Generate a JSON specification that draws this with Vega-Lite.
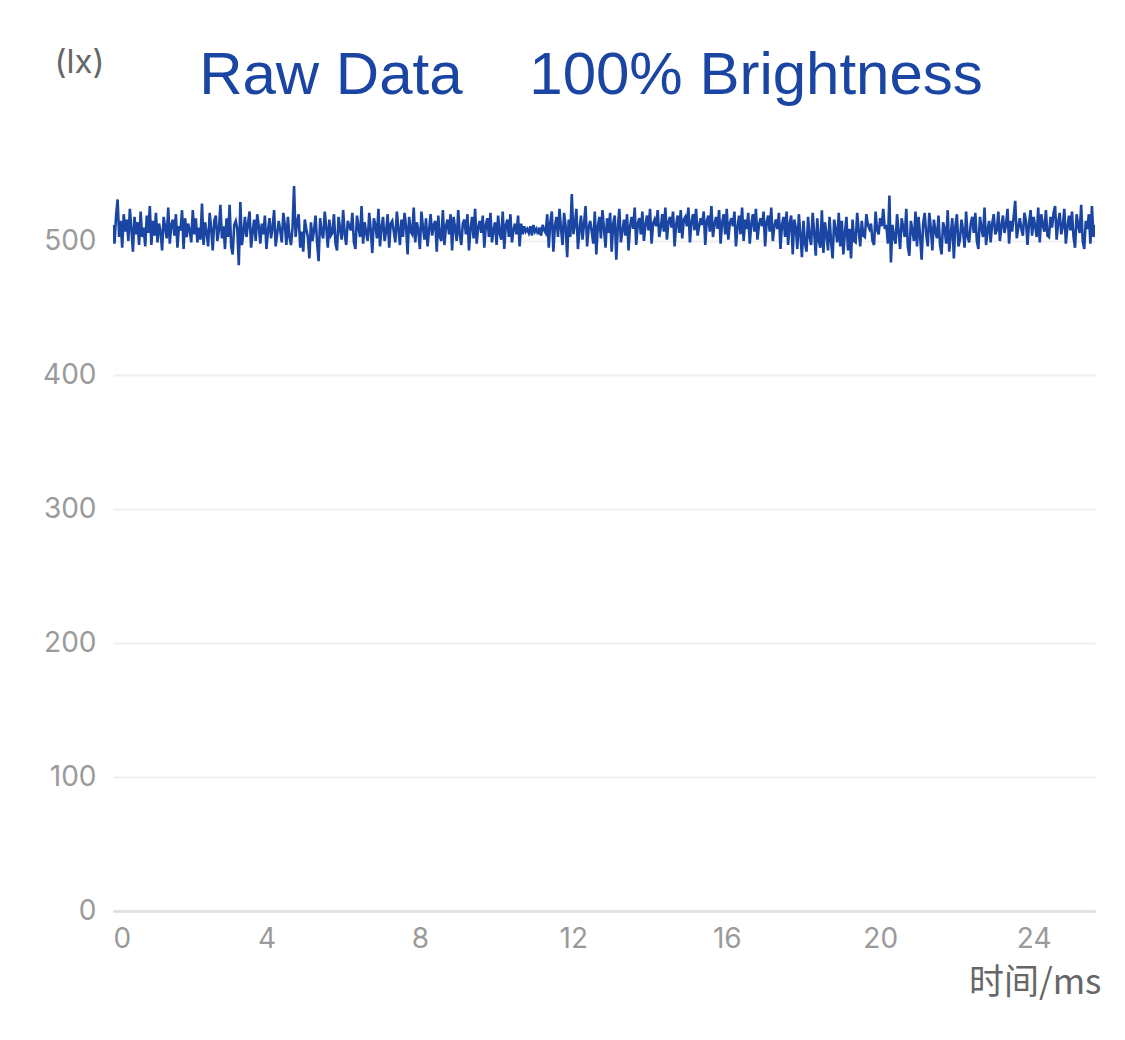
{
  "$schema": "https://vega.github.io/schema/vega-lite/v6.json",
  "width": 982,
  "height": 737,
  "autosize": {"type": "none"},
  "padding": {"left": 113, "top": 174, "right": 30, "bottom": 129},
  "background": "white",
  "title": {
    "text": "Raw Data\u00a0\u00a0\u00a0\u00a0100% Brightness",
    "font": "Liberation Sans",
    "fontSize": 60,
    "fontWeight": "normal",
    "color": "#1b45a3",
    "anchor": "middle",
    "frame": "group",
    "baseline": "alphabetic",
    "dx": -13,
    "offset": -108
  },
  "config": {
    "view": {"stroke": null},
    "axis": {"labelFont": "Inter", "titleFont": "Inter"}
  },
  "data": {
    "values": [
      {"t":0,"v":512},{"t":0.04,"v":498},{"t":0.08,"v":519},{"t":0.12,"v":531},{"t":0.16,"v":503},{"t":0.2,"v":515},{"t":0.24,"v":495},{"t":0.28,"v":520},{"t":0.32,"v":507},{"t":0.36,"v":516},{"t":0.4,"v":500},{"t":0.44,"v":524},{"t":0.48,"v":509},{"t":0.52,"v":492},{"t":0.56,"v":518},{"t":0.6,"v":505},{"t":0.64,"v":514},{"t":0.68,"v":497},{"t":0.72,"v":522},{"t":0.76,"v":503},{"t":0.8,"v":510},{"t":0.84,"v":496},{"t":0.88,"v":519},{"t":0.92,"v":506},{"t":0.96,"v":526},
      {"t":1,"v":497},{"t":1.04,"v":515},{"t":1.08,"v":504},{"t":1.12,"v":521},{"t":1.16,"v":499},{"t":1.2,"v":513},{"t":1.24,"v":507},{"t":1.28,"v":493},{"t":1.32,"v":518},{"t":1.36,"v":510},{"t":1.4,"v":502},{"t":1.44,"v":525},{"t":1.48,"v":498},{"t":1.52,"v":512},{"t":1.56,"v":516},{"t":1.6,"v":504},{"t":1.64,"v":520},{"t":1.68,"v":495},{"t":1.72,"v":511},{"t":1.76,"v":508},{"t":1.8,"v":523},{"t":1.84,"v":494},{"t":1.88,"v":517},{"t":1.92,"v":503},{"t":1.96,"v":513},
      {"t":2,"v":508},{"t":2.04,"v":499},{"t":2.08,"v":523},{"t":2.12,"v":505},{"t":2.16,"v":517},{"t":2.2,"v":499},{"t":2.24,"v":510},{"t":2.28,"v":501},{"t":2.32,"v":528},{"t":2.36,"v":497},{"t":2.4,"v":514},{"t":2.44,"v":506},{"t":2.48,"v":496},{"t":2.52,"v":521},{"t":2.56,"v":509},{"t":2.6,"v":493},{"t":2.64,"v":515},{"t":2.68,"v":519},{"t":2.72,"v":500},{"t":2.76,"v":508},{"t":2.8,"v":527},{"t":2.84,"v":502},{"t":2.88,"v":511},{"t":2.92,"v":494},{"t":2.96,"v":517},
      {"t":3,"v":503},{"t":3.04,"v":527},{"t":3.08,"v":496},{"t":3.12,"v":490},{"t":3.16,"v":512},{"t":3.2,"v":515},{"t":3.24,"v":509},{"t":3.28,"v":482},{"t":3.32,"v":529},{"t":3.36,"v":497},{"t":3.4,"v":506},{"t":3.44,"v":518},{"t":3.48,"v":503},{"t":3.52,"v":513},{"t":3.56,"v":522},{"t":3.6,"v":495},{"t":3.64,"v":507},{"t":3.68,"v":516},{"t":3.72,"v":500},{"t":3.76,"v":520},{"t":3.8,"v":511},{"t":3.84,"v":498},{"t":3.88,"v":513},{"t":3.92,"v":505},{"t":3.96,"v":519},
      {"t":4,"v":494},{"t":4.04,"v":508},{"t":4.08,"v":517},{"t":4.12,"v":502},{"t":4.16,"v":510},{"t":4.2,"v":523},{"t":4.24,"v":496},{"t":4.28,"v":505},{"t":4.32,"v":515},{"t":4.36,"v":508},{"t":4.4,"v":499},{"t":4.44,"v":521},{"t":4.48,"v":512},{"t":4.52,"v":497},{"t":4.56,"v":518},{"t":4.6,"v":503},{"t":4.64,"v":497},{"t":4.68,"v":510},{"t":4.72,"v":541},{"t":4.76,"v":503},{"t":4.8,"v":514},{"t":4.84,"v":520},{"t":4.88,"v":495},{"t":4.92,"v":507},{"t":4.96,"v":492},
      {"t":5,"v":516},{"t":5.04,"v":509},{"t":5.08,"v":503},{"t":5.12,"v":487},{"t":5.16,"v":514},{"t":5.2,"v":500},{"t":5.24,"v":508},{"t":5.28,"v":519},{"t":5.32,"v":499},{"t":5.36,"v":485},{"t":5.4,"v":517},{"t":5.44,"v":506},{"t":5.48,"v":502},{"t":5.52,"v":522},{"t":5.56,"v":510},{"t":5.6,"v":495},{"t":5.64,"v":516},{"t":5.68,"v":504},{"t":5.72,"v":506},{"t":5.76,"v":520},{"t":5.8,"v":498},{"t":5.84,"v":493},{"t":5.88,"v":518},{"t":5.92,"v":509},{"t":5.96,"v":501},
      {"t":6,"v":523},{"t":6.04,"v":505},{"t":6.08,"v":497},{"t":6.12,"v":515},{"t":6.16,"v":511},{"t":6.2,"v":508},{"t":6.24,"v":521},{"t":6.28,"v":499},{"t":6.32,"v":494},{"t":6.36,"v":519},{"t":6.4,"v":510},{"t":6.44,"v":503},{"t":6.48,"v":526},{"t":6.52,"v":498},{"t":6.56,"v":514},{"t":6.6,"v":506},{"t":6.64,"v":500},{"t":6.68,"v":521},{"t":6.72,"v":508},{"t":6.76,"v":491},{"t":6.8,"v":517},{"t":6.84,"v":512},{"t":6.88,"v":502},{"t":6.92,"v":524},{"t":6.96,"v":496},
      {"t":7,"v":510},{"t":7.04,"v":518},{"t":7.08,"v":500},{"t":7.12,"v":507},{"t":7.16,"v":520},{"t":7.2,"v":495},{"t":7.24,"v":513},{"t":7.28,"v":515},{"t":7.32,"v":507},{"t":7.36,"v":499},{"t":7.4,"v":522},{"t":7.44,"v":509},{"t":7.48,"v":497},{"t":7.52,"v":516},{"t":7.56,"v":503},{"t":7.6,"v":521},{"t":7.64,"v":511},{"t":7.68,"v":490},{"t":7.72,"v":518},{"t":7.76,"v":507},{"t":7.8,"v":505},{"t":7.84,"v":525},{"t":7.88,"v":499},{"t":7.92,"v":514},{"t":7.96,"v":508},
      {"t":8,"v":494},{"t":8.04,"v":522},{"t":8.08,"v":510},{"t":8.12,"v":501},{"t":8.16,"v":517},{"t":8.2,"v":496},{"t":8.24,"v":508},{"t":8.28,"v":520},{"t":8.32,"v":504},{"t":8.36,"v":512},{"t":8.4,"v":515},{"t":8.44,"v":492},{"t":8.48,"v":519},{"t":8.52,"v":503},{"t":8.56,"v":500},{"t":8.6,"v":523},{"t":8.64,"v":497},{"t":8.68,"v":511},{"t":8.72,"v":516},{"t":8.76,"v":505},{"t":8.8,"v":520},{"t":8.84,"v":493},{"t":8.88,"v":518},{"t":8.92,"v":509},{"t":8.96,"v":500},
      {"t":9,"v":523},{"t":9.04,"v":505},{"t":9.08,"v":497},{"t":9.12,"v":513},{"t":9.16,"v":516},{"t":9.2,"v":505},{"t":9.24,"v":520},{"t":9.28,"v":493},{"t":9.32,"v":509},{"t":9.36,"v":518},{"t":9.4,"v":502},{"t":9.44,"v":524},{"t":9.48,"v":498},{"t":9.52,"v":510},{"t":9.56,"v":515},{"t":9.6,"v":506},{"t":9.64,"v":519},{"t":9.68,"v":495},{"t":9.72,"v":512},{"t":9.76,"v":517},{"t":9.8,"v":503},{"t":9.84,"v":521},{"t":9.88,"v":499},{"t":9.92,"v":508},{"t":9.96,"v":514},
      {"t":10,"v":497},{"t":10.04,"v":519},{"t":10.08,"v":506},{"t":10.12,"v":501},{"t":10.16,"v":522},{"t":10.2,"v":494},{"t":10.24,"v":512},{"t":10.28,"v":516},{"t":10.32,"v":503},{"t":10.36,"v":520},{"t":10.4,"v":499},{"t":10.44,"v":508},{"t":10.48,"v":513},{"t":10.52,"v":505},{"t":10.56,"v":519},{"t":10.6,"v":496},{"t":10.64,"v":513},{"t":10.68,"v":505},{"t":10.72,"v":511},{"t":10.76,"v":507},{"t":10.8,"v":509},{"t":10.84,"v":506},{"t":10.88,"v":511},{"t":10.92,"v":504},{"t":10.96,"v":512},
      {"t":11,"v":507},{"t":11.04,"v":509},{"t":11.08,"v":505},{"t":11.12,"v":510},{"t":11.16,"v":504},{"t":11.2,"v":512},{"t":11.24,"v":508},{"t":11.28,"v":506},{"t":11.32,"v":520},{"t":11.36,"v":495},{"t":11.4,"v":514},{"t":11.44,"v":522},{"t":11.48,"v":492},{"t":11.52,"v":511},{"t":11.56,"v":518},{"t":11.6,"v":503},{"t":11.64,"v":524},{"t":11.68,"v":509},{"t":11.72,"v":497},{"t":11.76,"v":521},{"t":11.8,"v":511},{"t":11.84,"v":488},{"t":11.88,"v":516},{"t":11.92,"v":503},{"t":11.96,"v":535},
      {"t":12,"v":505},{"t":12.04,"v":512},{"t":12.08,"v":524},{"t":12.12,"v":494},{"t":12.16,"v":508},{"t":12.2,"v":519},{"t":12.24,"v":501},{"t":12.28,"v":513},{"t":12.32,"v":526},{"t":12.36,"v":496},{"t":12.4,"v":510},{"t":12.44,"v":515},{"t":12.48,"v":507},{"t":12.52,"v":498},{"t":12.56,"v":522},{"t":12.6,"v":490},{"t":12.64,"v":511},{"t":12.68,"v":518},{"t":12.72,"v":502},{"t":12.76,"v":523},{"t":12.8,"v":509},{"t":12.84,"v":495},{"t":12.88,"v":517},{"t":12.92,"v":506},{"t":12.96,"v":521},
      {"t":13,"v":492},{"t":13.04,"v":513},{"t":13.08,"v":519},{"t":13.12,"v":486},{"t":13.16,"v":510},{"t":13.2,"v":524},{"t":13.24,"v":499},{"t":13.28,"v":507},{"t":13.32,"v":516},{"t":13.36,"v":504},{"t":13.4,"v":520},{"t":13.44,"v":493},{"t":13.48,"v":511},{"t":13.52,"v":518},{"t":13.56,"v":509},{"t":13.6,"v":525},{"t":13.64,"v":497},{"t":13.68,"v":513},{"t":13.72,"v":517},{"t":13.76,"v":505},{"t":13.8,"v":522},{"t":13.84,"v":500},{"t":13.88,"v":512},{"t":13.92,"v":519},{"t":13.96,"v":508},
      {"t":14,"v":524},{"t":14.04,"v":498},{"t":14.08,"v":513},{"t":14.12,"v":516},{"t":14.16,"v":511},{"t":14.2,"v":523},{"t":14.24,"v":503},{"t":14.28,"v":510},{"t":14.32,"v":520},{"t":14.36,"v":507},{"t":14.4,"v":525},{"t":14.44,"v":501},{"t":14.48,"v":514},{"t":14.52,"v":518},{"t":14.56,"v":510},{"t":14.6,"v":522},{"t":14.64,"v":496},{"t":14.68,"v":512},{"t":14.72,"v":519},{"t":14.76,"v":506},{"t":14.8,"v":523},{"t":14.84,"v":502},{"t":14.88,"v":516},{"t":14.92,"v":518},{"t":14.96,"v":511},
      {"t":15,"v":525},{"t":15.04,"v":499},{"t":15.08,"v":514},{"t":15.12,"v":520},{"t":15.16,"v":508},{"t":15.2,"v":524},{"t":15.24,"v":504},{"t":15.28,"v":511},{"t":15.32,"v":517},{"t":15.36,"v":512},{"t":15.4,"v":522},{"t":15.44,"v":497},{"t":15.48,"v":515},{"t":15.52,"v":519},{"t":15.56,"v":507},{"t":15.6,"v":526},{"t":15.64,"v":503},{"t":15.68,"v":512},{"t":15.72,"v":518},{"t":15.76,"v":509},{"t":15.8,"v":523},{"t":15.84,"v":498},{"t":15.88,"v":514},{"t":15.92,"v":520},{"t":15.96,"v":505},
      {"t":16,"v":524},{"t":16.04,"v":501},{"t":16.08,"v":513},{"t":16.12,"v":517},{"t":16.16,"v":511},{"t":16.2,"v":522},{"t":16.24,"v":496},{"t":16.28,"v":510},{"t":16.32,"v":519},{"t":16.36,"v":505},{"t":16.4,"v":525},{"t":16.44,"v":500},{"t":16.48,"v":516},{"t":16.52,"v":509},{"t":16.56,"v":521},{"t":16.6,"v":498},{"t":16.64,"v":513},{"t":16.68,"v":520},{"t":16.72,"v":507},{"t":16.76,"v":524},{"t":16.8,"v":501},{"t":16.84,"v":512},{"t":16.88,"v":517},{"t":16.92,"v":511},{"t":16.96,"v":522},
      {"t":17,"v":496},{"t":17.04,"v":514},{"t":17.08,"v":519},{"t":17.12,"v":507},{"t":17.16,"v":525},{"t":17.2,"v":500},{"t":17.24,"v":511},{"t":17.28,"v":516},{"t":17.32,"v":509},{"t":17.36,"v":521},{"t":17.4,"v":494},{"t":17.44,"v":512},{"t":17.48,"v":518},{"t":17.52,"v":503},{"t":17.56,"v":522},{"t":17.6,"v":497},{"t":17.64,"v":513},{"t":17.68,"v":519},{"t":17.72,"v":490},{"t":17.76,"v":516},{"t":17.8,"v":510},{"t":17.84,"v":494},{"t":17.88,"v":520},{"t":17.92,"v":505},{"t":17.96,"v":488},
      {"t":18,"v":515},{"t":18.04,"v":498},{"t":18.08,"v":492},{"t":18.12,"v":518},{"t":18.16,"v":503},{"t":18.2,"v":497},{"t":18.24,"v":521},{"t":18.28,"v":506},{"t":18.32,"v":489},{"t":18.36,"v":517},{"t":18.4,"v":500},{"t":18.44,"v":495},{"t":18.48,"v":523},{"t":18.52,"v":491},{"t":18.56,"v":514},{"t":18.6,"v":505},{"t":18.64,"v":493},{"t":18.68,"v":518},{"t":18.72,"v":499},{"t":18.76,"v":487},{"t":18.8,"v":516},{"t":18.84,"v":508},{"t":18.88,"v":499},{"t":18.92,"v":521},{"t":18.96,"v":496},
      {"t":19,"v":515},{"t":19.04,"v":490},{"t":19.08,"v":506},{"t":19.12,"v":518},{"t":19.16,"v":493},{"t":19.2,"v":509},{"t":19.24,"v":487},{"t":19.28,"v":516},{"t":19.32,"v":500},{"t":19.36,"v":499},{"t":19.4,"v":521},{"t":19.44,"v":508},{"t":19.48,"v":496},{"t":19.52,"v":515},{"t":19.56,"v":504},{"t":19.6,"v":503},{"t":19.64,"v":520},{"t":19.68,"v":512},{"t":19.72,"v":509},{"t":19.76,"v":513},{"t":19.8,"v":500},{"t":19.84,"v":497},{"t":19.88,"v":522},{"t":19.92,"v":508},{"t":19.96,"v":505},
      {"t":20,"v":517},{"t":20.04,"v":511},{"t":20.08,"v":524},{"t":20.12,"v":509},{"t":20.16,"v":512},{"t":20.2,"v":498},{"t":20.24,"v":534},{"t":20.28,"v":484},{"t":20.32,"v":512},{"t":20.36,"v":503},{"t":20.4,"v":498},{"t":20.44,"v":520},{"t":20.48,"v":507},{"t":20.52,"v":494},{"t":20.56,"v":517},{"t":20.6,"v":510},{"t":20.64,"v":503},{"t":20.68,"v":524},{"t":20.72,"v":496},{"t":20.76,"v":489},{"t":20.8,"v":515},{"t":20.84,"v":508},{"t":20.88,"v":500},{"t":20.92,"v":522},{"t":20.96,"v":496},
      {"t":21,"v":518},{"t":21.04,"v":504},{"t":21.08,"v":486},{"t":21.12,"v":513},{"t":21.16,"v":521},{"t":21.2,"v":505},{"t":21.24,"v":496},{"t":21.28,"v":521},{"t":21.32,"v":510},{"t":21.36,"v":493},{"t":21.4,"v":516},{"t":21.44,"v":507},{"t":21.48,"v":502},{"t":21.52,"v":519},{"t":21.56,"v":497},{"t":21.6,"v":490},{"t":21.64,"v":514},{"t":21.68,"v":509},{"t":21.72,"v":498},{"t":21.76,"v":523},{"t":21.8,"v":492},{"t":21.84,"v":505},{"t":21.88,"v":517},{"t":21.92,"v":487},{"t":21.96,"v":511},
      {"t":22,"v":520},{"t":22.04,"v":496},{"t":22.08,"v":501},{"t":22.12,"v":516},{"t":22.16,"v":508},{"t":22.2,"v":495},{"t":22.24,"v":522},{"t":22.28,"v":503},{"t":22.32,"v":499},{"t":22.36,"v":513},{"t":22.4,"v":518},{"t":22.44,"v":506},{"t":22.48,"v":521},{"t":22.52,"v":500},{"t":22.56,"v":494},{"t":22.6,"v":518},{"t":22.64,"v":510},{"t":22.68,"v":503},{"t":22.72,"v":525},{"t":22.76,"v":497},{"t":22.8,"v":508},{"t":22.84,"v":515},{"t":22.88,"v":499},{"t":22.92,"v":513},{"t":22.96,"v":520},
      {"t":23,"v":505},{"t":23.04,"v":508},{"t":23.08,"v":522},{"t":23.12,"v":500},{"t":23.16,"v":511},{"t":23.2,"v":519},{"t":23.24,"v":506},{"t":23.28,"v":512},{"t":23.32,"v":524},{"t":23.36,"v":498},{"t":23.4,"v":515},{"t":23.44,"v":507},{"t":23.48,"v":518},{"t":23.52,"v":530},{"t":23.56,"v":502},{"t":23.6,"v":510},{"t":23.64,"v":517},{"t":23.68,"v":509},{"t":23.72,"v":504},{"t":23.76,"v":521},{"t":23.8,"v":515},{"t":23.84,"v":497},{"t":23.88,"v":513},{"t":23.92,"v":523},{"t":23.96,"v":504},
      {"t":24,"v":518},{"t":24.04,"v":511},{"t":24.08,"v":503},{"t":24.12,"v":525},{"t":24.16,"v":499},{"t":24.2,"v":520},{"t":24.24,"v":512},{"t":24.28,"v":507},{"t":24.32,"v":523},{"t":24.36,"v":504},{"t":24.4,"v":503},{"t":24.44,"v":518},{"t":24.48,"v":510},{"t":24.52,"v":521},{"t":24.56,"v":526},{"t":24.6,"v":501},{"t":24.64,"v":514},{"t":24.68,"v":521},{"t":24.72,"v":505},{"t":24.76,"v":511},{"t":24.8,"v":524},{"t":24.84,"v":498},{"t":24.88,"v":510},{"t":24.92,"v":519},{"t":24.96,"v":508},
      {"t":25,"v":522},{"t":25.04,"v":503},{"t":25.08,"v":495},{"t":25.12,"v":520},{"t":25.16,"v":512},{"t":25.2,"v":506},{"t":25.24,"v":527},{"t":25.28,"v":500},{"t":25.32,"v":494},{"t":25.36,"v":515},{"t":25.4,"v":509},{"t":25.44,"v":520},{"t":25.48,"v":498},{"t":25.52,"v":526},{"t":25.56,"v":503},{"t":25.6,"v":512}
    ]
  },
  "mark": {"type": "line", "color": "#1b45a3", "strokeWidth": 2.6, "clip": true},
  "encoding": {
    "x": {
      "field": "t",
      "type": "quantitative",
      "scale": {"domain": [0, 25.6], "nice": false, "zero": false},
      "axis": {
        "values": [0, 4, 8, 12, 16, 20, 24],
        "labelFontSize": 28,
        "labelColor": "#9a9a9a",
        "labelPadding": 14,
        "labelFlush": true,
        "ticks": false,
        "grid": false,
        "domain": true,
        "domainColor": "#dedede",
        "domainWidth": 2.5,
        "title": "时间/ms",
        "titleFont": "Noto Sans CJK SC",
        "titleFontSize": 35,
        "titleFontWeight": "normal",
        "titleColor": "#666666",
        "titleAlign": "right",
        "titleBaseline": "alphabetic",
        "titleX": 988,
        "titleY": 82
      }
    },
    "y": {
      "field": "v",
      "type": "quantitative",
      "scale": {"domain": [0, 550], "nice": false},
      "axis": {
        "values": [0, 100, 200, 300, 400, 500],
        "labelFontSize": 28,
        "labelColor": "#9a9a9a",
        "labelPadding": 17,
        "ticks": false,
        "domain": false,
        "grid": true,
        "gridColor": "#efefef",
        "gridWidth": 2,
        "title": "(lx)",
        "titleFontSize": 33,
        "titleFontWeight": "normal",
        "titleColor": "#666666",
        "titleAngle": 0,
        "titleAlign": "center",
        "titleBaseline": "alphabetic",
        "titleX": -34,
        "titleY": -102
      }
    }
  }
}
